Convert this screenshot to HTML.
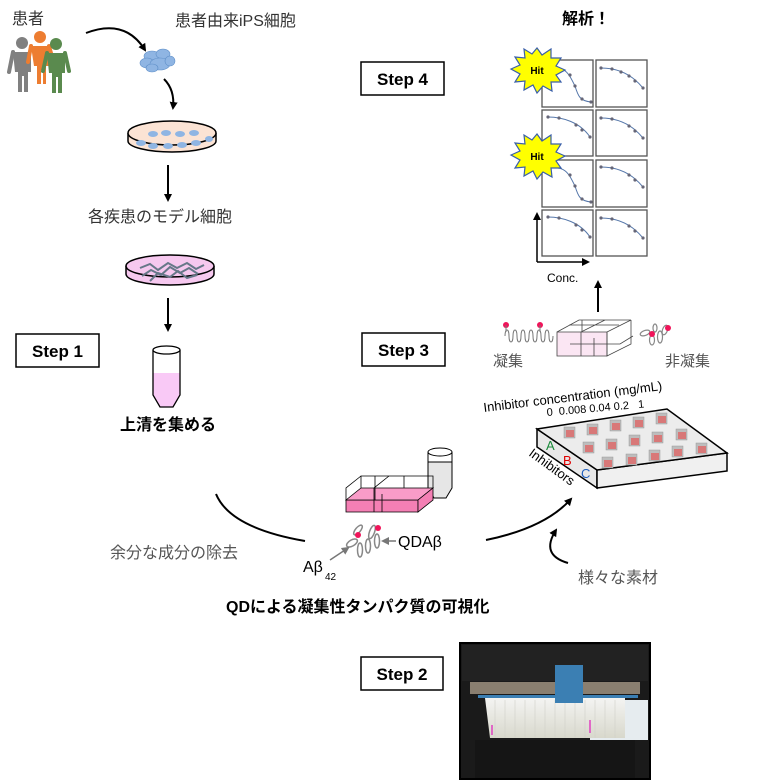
<!DOCTYPE html>
<html><head><meta charset="utf-8"><style>
html,body{margin:0;padding:0;background:#fff;}
svg{display:block;font-family:"Liberation Sans","Noto Sans CJK JP",sans-serif;}
</style></head><body>
<svg width="758" height="780" viewBox="0 0 758 780" xmlns="http://www.w3.org/2000/svg">
<defs>
<marker id="ah" markerWidth="8" markerHeight="8" refX="6" refY="4" orient="auto" markerUnits="userSpaceOnUse"><path d="M0,0 L8,4 L0,8 z" fill="#000"/></marker>
<marker id="ag" markerWidth="8" markerHeight="8" refX="6" refY="4" orient="auto" markerUnits="userSpaceOnUse"><path d="M0,0 L8,4 L0,8 z" fill="#777"/></marker>
<linearGradient id="wg" x1="0" y1="0" x2="0" y2="1"><stop offset="0" stop-color="#f4f4f2"/><stop offset="1" stop-color="#d8d8cc"/></linearGradient>
<g id="cell"><rect x="0" y="0" width="11" height="11" fill="#bdbdbd" stroke="#999" stroke-width="0.5"/><rect x="2" y="3" width="8" height="7" fill="#d87878"/></g>
</defs>

<!-- patients -->
<text x="12" y="24" font-size="16" fill="#333">患者</text>
<g stroke-linecap="round">
<circle cx="22" cy="43" r="6" fill="#808080"/>
<path d="M13,52 h18 v20 h-3 v20 h-4 v-16 h-2 v16 h-4 v-20 h-3 z" fill="#808080"/>
<path d="M13,52 l-4,20" stroke="#808080" stroke-width="4"/>
<circle cx="40" cy="37" r="6" fill="#ed7d31"/>
<path d="M31,46 h18 v20 h-3 v18 h-3 v-14 h-2 v14 h-4 v-18 h-3 z" fill="#ed7d31"/>
<path d="M31,46 l-3,16 M49,46 l4,14" stroke="#ed7d31" stroke-width="4"/>
<circle cx="56" cy="44" r="6" fill="#5a8a4e"/>
<path d="M47,53 h18 v20 h-3 v20 h-4 v-16 h-2 v16 h-4 v-20 h-3 z" fill="#5a8a4e"/>
<path d="M47,53 l-4,18 M65,53 l4,18" stroke="#5a8a4e" stroke-width="4"/>
</g>
<text x="175" y="26" font-size="16" fill="#333">患者由来iPS細胞</text>
<path d="M86,33 Q125,18 145,50" fill="none" stroke="#000" stroke-width="2" marker-end="url(#ah)"/>
<g fill="#8fb5e3" stroke="#5f8fc8" stroke-width="0.6">
<ellipse cx="152" cy="56" rx="8" ry="5"/><ellipse cx="163" cy="54" rx="7" ry="5"/>
<ellipse cx="147" cy="63" rx="7" ry="5"/><ellipse cx="160" cy="64" rx="10" ry="6"/>
<ellipse cx="170" cy="61" rx="5" ry="5"/><ellipse cx="152" cy="68" rx="6" ry="4"/>
</g>
<path d="M164,79 Q175,90 173,108" fill="none" stroke="#000" stroke-width="2" marker-end="url(#ah)"/>
<path d="M128,133 v8 a44,11 0 0 0 88,0 v-8" fill="#fbe3d4" stroke="#000" stroke-width="1.5"/>
<ellipse cx="172" cy="133" rx="44" ry="12" fill="#fbe3d4" stroke="#000" stroke-width="1.5"/>
<g fill="#8fb5e3"><ellipse cx="153" cy="134" rx="5" ry="3"/><ellipse cx="166" cy="133" rx="5" ry="3"/><ellipse cx="180" cy="134" rx="5" ry="3"/><ellipse cx="194" cy="133" rx="5" ry="3"/><ellipse cx="141" cy="143" rx="5" ry="3"/><ellipse cx="153" cy="146" rx="5" ry="3"/><ellipse cx="168" cy="146" rx="5" ry="3"/><ellipse cx="182" cy="145" rx="5" ry="3"/><ellipse cx="196" cy="143" rx="5" ry="3"/><ellipse cx="209" cy="139" rx="4" ry="3"/></g>
<line x1="168" y1="165" x2="168" y2="200" stroke="#000" stroke-width="2" marker-end="url(#ah)"/>
<text x="88" y="222" font-size="16" fill="#333">各疾患のモデル細胞</text>
<path d="M126,266 v8 a44,11 0 0 0 88,0 v-8" fill="#f6c8ef" stroke="#000" stroke-width="1.5"/>
<ellipse cx="170" cy="266" rx="44" ry="11" fill="#f6c8ef" stroke="#000" stroke-width="1.5"/>
<path d="M140,268 l10,-4 l8,6 l10,-7 l9,5 l10,-5 l9,6 l8,-4 M142,276 l9,-6 l10,5 l9,-8 l10,6 l9,-5 l9,6 M150,281 l8,-8 l12,4 l8,-6 l9,7 l10,-3" fill="none" stroke="#667788" stroke-width="2"/>
<line x1="168" y1="298" x2="168" y2="330" stroke="#000" stroke-width="2" marker-end="url(#ah)"/>
<rect x="16" y="334" width="83" height="33" fill="#fff" stroke="#000" stroke-width="1.5"/>
<text x="57.5" y="357" font-size="17" font-weight="bold" text-anchor="middle">Step 1</text>
<path d="M153,373 v22 l7,12 h13 l7,-12 v-22 z" fill="#f9c9f6"/>
<path d="M153,350 v45 l7,12 h13 l7,-12 v-45" fill="none" stroke="#000" stroke-width="1.3"/>
<ellipse cx="166.5" cy="350" rx="13.5" ry="4" fill="#fff" stroke="#000" stroke-width="1.3"/>
<text x="120" y="430" font-size="16" font-weight="bold">上清を集める</text>
<path d="M216,494 Q230,528 305,541" fill="none" stroke="#000" stroke-width="2"/>
<text x="110" y="558" font-size="16" fill="#555">余分な成分の除去</text>
<text x="303" y="572" font-size="16">Aβ</text><text x="325" y="580" font-size="10">42</text>
<text x="226" y="612" font-size="16" font-weight="bold">QDによる凝集性タンパク質の可視化</text>
<rect x="361" y="657" width="82" height="33" fill="#fff" stroke="#000" stroke-width="1.5"/>
<text x="402" y="680" font-size="17" font-weight="bold" text-anchor="middle">Step 2</text>
<!-- photo -->
<rect x="460" y="643" width="190" height="136" fill="#1a1a1a" stroke="#000" stroke-width="2"/>
<rect x="462" y="645" width="186" height="36" fill="#222"/>
<rect x="470" y="682" width="170" height="12" fill="#8a7f70"/>
<rect x="590" y="700" width="58" height="40" fill="#e6ecef"/>
<path d="M485,698 h140 v40 h-135 z" fill="url(#wg)"/>
<g stroke="#cfcfc8" stroke-width="0.6"><path d="M495,700v38M505,700v38M515,700v38M525,700v38M535,700v38M545,700v38M555,700v38M565,700v38M575,700v38M585,700v38M595,700v38M605,700v38M615,700v38"/></g>
<rect x="555" y="665" width="28" height="38" fill="#3b7fb3"/>
<rect x="478" y="695" width="160" height="3" fill="#3b7fb3"/>
<line x1="492" y1="725" x2="492" y2="735" stroke="#e040c0" stroke-width="1.5"/>
<line x1="590" y1="720" x2="590" y2="733" stroke="#e040c0" stroke-width="1.5"/>
<rect x="475" y="740" width="160" height="38" fill="#151515"/>
<!-- tube + plate center -->
<path d="M428,455 v33 l6,10 h12 l6,-10 v-33 z" fill="#e6e6e6" stroke="#000" stroke-width="1"/>
<path d="M428,452 v10 h24 v-10" fill="#fff" stroke="#000"/>
<ellipse cx="440" cy="452" rx="12" ry="4" fill="#fff" stroke="#000"/>
<g stroke="#000" stroke-width="0.8">
<path d="M346,500 h72 v12 h-72 z" fill="#f47fb4"/>
<path d="M346,500 l15,-12 h72 l-15,12 z" fill="#f99cc8"/>
<path d="M418,500 l15,-12 v12 l-15,12 z" fill="#f47fb4"/>
<path d="M361,488 v-12 h72 v12 M361,476 l-15,12 v12 M375,476 v24 M389,476 l-15,12 v24 M404,476 v12 M382,494 v18" fill="none"/>
</g>
<g fill="#fff" stroke="#888" stroke-width="1.5">
<ellipse cx="352" cy="543" rx="6" ry="3" transform="rotate(-30 352 543)"/>
<ellipse cx="358" cy="530" rx="6" ry="2.5" transform="rotate(-50 358 530)"/>
<ellipse cx="360" cy="550" rx="2.5" ry="7"/>
<ellipse cx="368" cy="546" rx="2.5" ry="7"/>
<ellipse cx="372" cy="532" rx="2.5" ry="7" transform="rotate(20 372 532)"/>
<ellipse cx="377" cy="541" rx="2.5" ry="7"/>
</g>
<circle cx="358" cy="535" r="3" fill="#f0145a"/><circle cx="378" cy="528" r="3" fill="#f0145a"/>
<line x1="330" y1="560" x2="348" y2="548" stroke="#777" stroke-width="1.5" marker-end="url(#ag)"/>
<line x1="396" y1="541" x2="383" y2="541" stroke="#777" stroke-width="1.5" marker-end="url(#ag)"/>
<text x="398" y="547" font-size="16">QDAβ</text>
<path d="M486,540 Q545,528 571,499" fill="none" stroke="#000" stroke-width="2" marker-end="url(#ah)"/>
<path d="M568,563 Q540,555 556,530" fill="none" stroke="#000" stroke-width="2" marker-end="url(#ah)"/>
<text x="578" y="583" font-size="16" fill="#555">様々な素材</text>
<rect x="362" y="333" width="83" height="33" fill="#fff" stroke="#000" stroke-width="1.5"/>
<text x="403.5" y="356" font-size="17" font-weight="bold" text-anchor="middle">Step 3</text>
<!-- plate 3D -->
<g stroke="#000" stroke-width="1.5">
<path d="M537,429 L597,470 L597,488 L537,447 z" fill="#e8e8e8"/>
<path d="M597,470 L727,453 L727,471 L597,488 z" fill="#f0f0f0"/>
<path d="M537,429 L667,409 L727,453 L597,470 z" fill="#ececec"/>
</g>
<use href="#cell" x="564" y="427"/><use href="#cell" x="587" y="424"/><use href="#cell" x="610" y="420"/><use href="#cell" x="633" y="417"/><use href="#cell" x="656" y="413"/>
<use href="#cell" x="583" y="442"/><use href="#cell" x="606" y="439"/><use href="#cell" x="629" y="435"/><use href="#cell" x="652" y="432"/><use href="#cell" x="676" y="429"/>
<use href="#cell" x="602" y="457"/><use href="#cell" x="626" y="454"/><use href="#cell" x="649" y="450"/><use href="#cell" x="672" y="446"/><use href="#cell" x="696" y="443"/>
<text x="484" y="412" font-size="13" transform="rotate(-7 484 412)">Inhibitor concentration (mg/mL)</text>
<text x="547" y="416" font-size="11" transform="rotate(-5 547 416)">0 &#160;0.008 0.04 0.2 &#160; 1</text>
<text x="546" y="450" font-size="13" fill="#1a8a3a">A</text>
<text x="563" y="465" font-size="13" fill="#e00000">B</text>
<text x="581" y="478" font-size="13" fill="#1f5fbf">C</text>
<text x="528" y="455" font-size="13" transform="rotate(36 528 455)">Inhibitors</text>
<g fill="none" stroke="#777" stroke-width="1">
<path d="M505,336 c0,-8 4,-8 4,0 c0,8 4,8 4,0 c0,-8 4,-8 4,0 c0,8 4,8 4,0 c0,-8 4,-8 4,0 c0,8 4,8 4,0 c0,-8 4,-8 4,0 c0,8 4,8 4,0 c0,-8 4,-8 4,0 c0,8 4,8 4,0 c0,-8 4,-8 4,0 c0,8 4,8 4,0"/>
</g>
<circle cx="506" cy="325" r="3" fill="#f0145a"/><circle cx="540" cy="325" r="3" fill="#f0145a"/>
<line x1="506" y1="325" x2="506" y2="332" stroke="#777"/><line x1="540" y1="325" x2="540" y2="332" stroke="#777"/>
<text x="493" y="366" font-size="15" fill="#555">凝集</text>
<g stroke="#444" stroke-width="0.8" fill="none">
<path d="M557,332 h50 v24 h-50 z" fill="#fbe6f3"/>
<path d="M557,332 l22,-12 h52 l-24,12 M607,332 v24 l24,-12 v-24 M582,320 v12 M605,320 l-24,12 v24 M569,325 h50 M594,338 v18 M570,344 h50 l13,-8"/>
</g>
<g fill="#fff" stroke="#888" stroke-width="1.2">
<ellipse cx="645" cy="333" rx="5" ry="2.5" transform="rotate(-20 645 333)"/>
<ellipse cx="652" cy="340" rx="2.5" ry="5"/>
<ellipse cx="660" cy="337" rx="2.5" ry="6"/>
<ellipse cx="665" cy="330" rx="2.5" ry="5" transform="rotate(20 665 330)"/>
<ellipse cx="655" cy="328" rx="2" ry="4"/>
</g>
<circle cx="652" cy="334" r="3" fill="#f0145a"/><circle cx="668" cy="328" r="3" fill="#f0145a"/>
<text x="665" y="366" font-size="15" fill="#555">非凝集</text>
<line x1="598" y1="312" x2="598" y2="282" stroke="#000" stroke-width="2" marker-end="url(#ah)"/>
<rect x="361" y="62" width="83" height="33" fill="#fff" stroke="#000" stroke-width="1.5"/>
<text x="402.5" y="85" font-size="17" font-weight="bold" text-anchor="middle">Step 4</text>
<text x="562" y="24" font-size="16" font-weight="bold">解析！</text>
<g fill="#fff" stroke="#555" stroke-width="1.3">
<rect x="542" y="60" width="51" height="47"/><rect x="596" y="60" width="51" height="47"/>
<rect x="542" y="110" width="51" height="46"/><rect x="596" y="110" width="51" height="46"/>
<rect x="542" y="160" width="51" height="47"/><rect x="596" y="160" width="51" height="47"/>
<rect x="542" y="210" width="51" height="46"/><rect x="596" y="210" width="51" height="46"/>
</g>
<g fill="none" stroke="#5577aa" stroke-width="1">
<path d="M548,68 C565,66 568,72 575,86 C578,96 580,101 591,102"/>
<path d="M548,168 C565,166 568,172 575,186 C578,196 580,201 591,202"/>
<path d="M601,68 C615,68 630,72 643,88"/>
<path d="M548,117 C562,117 580,122 590,137"/><path d="M601,118 C615,118 630,122 643,138"/>
<path d="M601,167 C615,167 630,171 643,187"/>
<path d="M548,217 C562,217 580,222 590,237"/><path d="M601,218 C615,218 630,222 643,238"/>
</g>
<g fill="#667">
<circle cx="575" cy="86" r="1.6"/><circle cx="582" cy="99" r="1.6"/><circle cx="591" cy="102" r="1.6"/><circle cx="570" cy="75" r="1.6"/>
<circle cx="575" cy="186" r="1.6"/><circle cx="582" cy="199" r="1.6"/><circle cx="591" cy="202" r="1.6"/><circle cx="570" cy="175" r="1.6"/>
<circle cx="601" cy="68" r="1.6"/><circle cx="612" cy="69" r="1.6"/><circle cx="621" cy="72" r="1.6"/><circle cx="629" cy="76" r="1.6"/><circle cx="635" cy="81" r="1.6"/><circle cx="643" cy="88" r="1.6"/>
<circle cx="548" cy="117" r="1.6"/><circle cx="559" cy="118" r="1.6"/><circle cx="576" cy="125" r="1.6"/><circle cx="582" cy="130" r="1.6"/><circle cx="590" cy="137" r="1.6"/>
<circle cx="601" cy="118" r="1.6"/><circle cx="612" cy="119" r="1.6"/><circle cx="629" cy="126" r="1.6"/><circle cx="635" cy="131" r="1.6"/><circle cx="643" cy="138" r="1.6"/>
<circle cx="601" cy="167" r="1.6"/><circle cx="612" cy="168" r="1.6"/><circle cx="629" cy="175" r="1.6"/><circle cx="635" cy="180" r="1.6"/><circle cx="643" cy="187" r="1.6"/>
<circle cx="548" cy="217" r="1.6"/><circle cx="559" cy="218" r="1.6"/><circle cx="576" cy="225" r="1.6"/><circle cx="582" cy="230" r="1.6"/><circle cx="590" cy="237" r="1.6"/>
<circle cx="601" cy="218" r="1.6"/><circle cx="612" cy="219" r="1.6"/><circle cx="629" cy="226" r="1.6"/><circle cx="635" cy="231" r="1.6"/><circle cx="643" cy="238" r="1.6"/>
</g>
<path d="M537,262 V214" stroke="#000" stroke-width="1.5" marker-end="url(#ah)"/>
<path d="M537,262 H588" stroke="#000" stroke-width="1.5" marker-end="url(#ah)"/>
<text x="547" y="282" font-size="12">Conc.</text>
<g fill="#ffff00" stroke="#3a5fa8" stroke-width="1.2">
<path d="M537,48 l5,7 l9,-6 l0,9 l10,0 l-5,8 l9,4 l-9,5 l5,7 l-10,0 l1,9 l-9,-5 l-6,7 l-4,-8 l-9,5 l1,-9 l-10,1 l5,-8 l-9,-5 l9,-4 l-5,-8 l10,1 l-1,-9 l8,5 z"/>
<path d="M537,134 l5,7 l9,-6 l0,9 l10,0 l-5,8 l9,4 l-9,5 l5,7 l-10,0 l1,9 l-9,-5 l-6,7 l-4,-8 l-9,5 l1,-9 l-10,1 l5,-8 l-9,-5 l9,-4 l-5,-8 l10,1 l-1,-9 l8,5 z"/>
</g>
<text x="537" y="74" font-size="10" font-weight="bold" text-anchor="middle">Hit</text>
<text x="537" y="160" font-size="10" font-weight="bold" text-anchor="middle">Hit</text>
</svg>
</body></html>
